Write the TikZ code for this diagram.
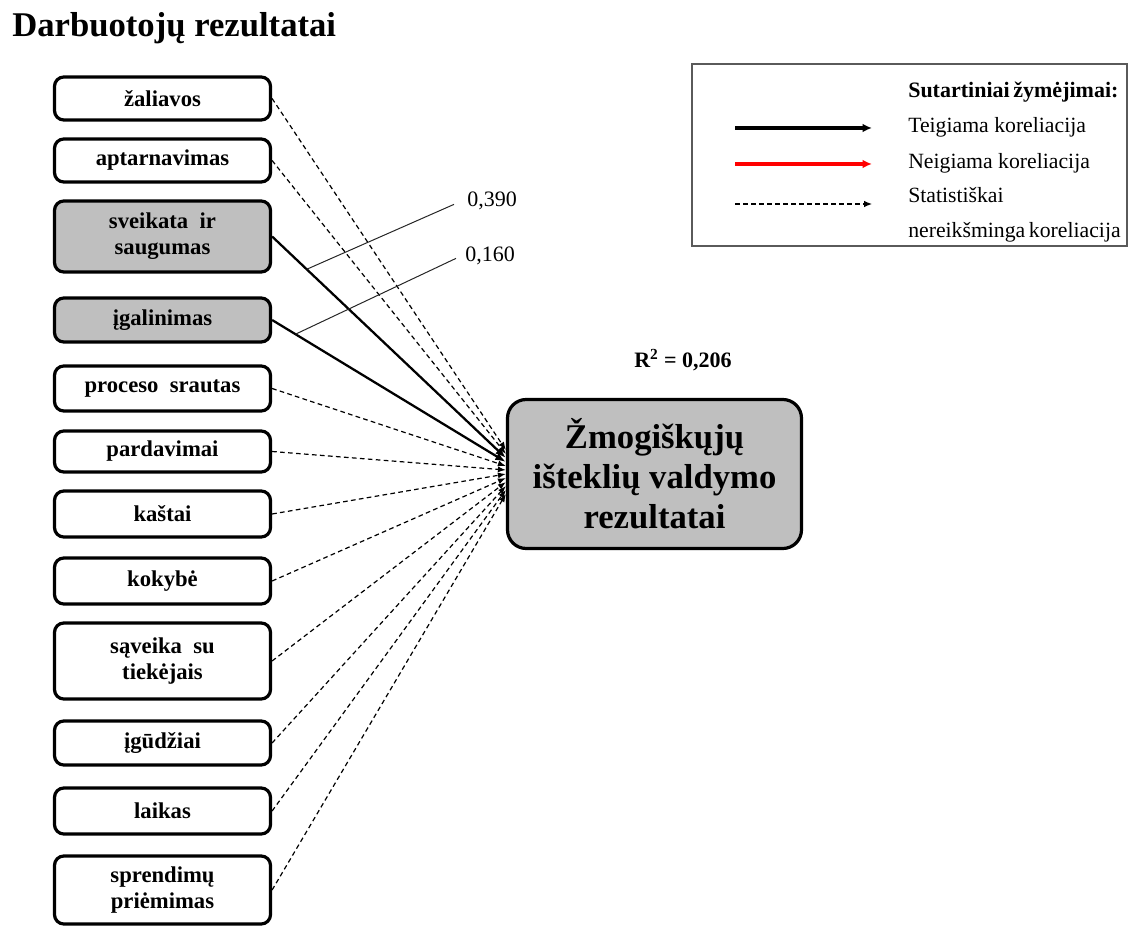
\documentclass[tikz,border=0pt]{standalone}
\usepackage{fontspec}
\setmainfont{Liberation Serif}
\usetikzlibrary{arrows.meta,calc}
\definecolor{boxgray}{RGB}{191,191,191}
\definecolor{legendframe}{RGB}{90,90,90}
\tikzset{
  factor/.style={draw, line width=2.4pt, rounded corners=7pt, fill=white,
    minimum width=162pt, align=center, inner sep=2pt,
    font=\bfseries\fontsize{17}{19.5}\selectfont},
  hilite/.style={factor, fill=boxgray},
  outcome/.style={draw, line width=2.4pt, rounded corners=14pt, fill=boxgray,
    minimum width=220.5pt, minimum height=111.75pt, align=center,
    font=\bfseries\fontsize{26}{30}\selectfont},
  sig/.style={line width=1.7pt, -{Latex[length=8pt,width=6pt]}},
  nonsig/.style={line width=0.9pt, dash pattern=on 3.5pt off 2.5pt,
    -{Latex[length=6pt,width=4.5pt]}},
  leader/.style={line width=0.75pt, draw=black!85},
  valuelabel/.style={font=\fontsize{16.5}{19}\selectfont, anchor=base west, inner sep=0pt},
  legendtext/.style={font=\fontsize{16.3}{19}\selectfont, anchor=base west, inner sep=0pt},
}
\begin{document}
\begin{tikzpicture}[x=0.75pt, y=-0.75pt]
\useasboundingbox (0,0) rectangle (1129,927);

% heading
\node[anchor=base west, inner sep=0pt, font=\bfseries\fontsize{26}{30}\selectfont]
  (title) at (12,37) {Darbuotojų rezultatai};

% employee result factors
\node[factor, minimum height=32.25pt] (b1)  at (162.5, 98.5) {žaliavos};
\node[factor, minimum height=32.25pt] (b2)  at (162.5,160.5) {aptarnavimas};
\node[hilite, minimum height=53.25pt] (b3)  at (162.5,236.5) {sveikata\ \ ir\\saugumas};
\node[hilite, minimum height=33pt]    (b4)  at (162.5,320)   {įgalinimas};
\node[factor, minimum height=33.75pt] (b5)  at (162.5,388.5) {proceso\ \ srautas};
\node[factor, minimum height=30.75pt] (b6)  at (162.5,451.5) {pardavimai};
\node[factor, minimum height=34.5pt]  (b7)  at (162.5,514)   {kaštai};
\node[factor, minimum height=34.5pt]  (b8)  at (162.5,581)   {kokybė};
\node[factor, minimum height=57pt]    (b9)  at (162.5,661)   {sąveika\ \ su\\tiekėjais};
\node[factor, minimum height=33pt]    (b10) at (162.5,743)   {įgūdžiai};
\node[factor, minimum height=34.5pt]  (b11) at (162.5,811)   {laikas};
\node[factor, minimum height=51pt]    (b12) at (162.5,890)   {sprendimų\\priėmimas};

% outcome
\node[outcome] (tgt) at (654.5,474) {Žmogiškųjų\\išteklių valdymo\\rezultatai};
\node[anchor=base, inner sep=0pt, font=\bfseries\fontsize{16.5}{19}\selectfont]
  (r2) at (683,368) {R\textsuperscript{2} = 0,206};

% connectors
\draw[nonsig] (b1.east)  -- ($(tgt.west)+(0,-24)$);
\draw[nonsig] (b2.east)  -- ($(tgt.west)+(0,-20)$);
\draw[sig]    (b3.east)  -- coordinate[pos=0.148] (c3) ($(tgt.west)+(0,-16)$);
\draw[sig]    (b4.east)  -- coordinate[pos=0.10] (c4) ($(tgt.west)+(0,-12)$);
\draw[nonsig] (b5.east)  -- ($(tgt.west)+(0,-8)$);
\draw[nonsig] (b6.east)  -- ($(tgt.west)+(0,-4)$);
\draw[nonsig] (b7.east)  -- ($(tgt.west)+(0,0)$);
\draw[nonsig] (b8.east)  -- ($(tgt.west)+(0,4)$);
\draw[nonsig] (b9.east)  -- ($(tgt.west)+(0,8)$);
\draw[nonsig] (b10.east) -- ($(tgt.west)+(0,12)$);
\draw[nonsig] (b11.east) -- ($(tgt.west)+(0,16)$);
\draw[nonsig] (b12.east) -- ($(tgt.west)+(0,20)$);

% coefficient call-outs
\node[valuelabel] (v3) at (467,207) {0,390};
\node[valuelabel] (v4) at (465,262) {0,160};
\draw[leader] (c3) -- ($(v3.west)+(-13,3)$);
\draw[leader] (c4) -- ($(v4.west)+(-9,2)$);

% legend
\node[draw=legendframe, line width=0.9pt, minimum width=326.25pt, minimum height=136.5pt,
  inner sep=0pt] (legend) at (909.5,155) {};
\node[legendtext, font=\bfseries\fontsize{16.5}{19}\selectfont] (lt0) at (908,98) {Sutartiniai\,žymėjimai:};
\node[legendtext] (lt1) at (908,133) {Teigiama koreliacija};
\node[legendtext] (lt2) at (908,169) {Neigiama koreliacija};
\node[legendtext] (lt3) at (908,203) {Statistiškai};
\node[legendtext] (lt4) at (908,238) {nereikšminga\,koreliacija};
\coordinate (ls1) at (735,128); \coordinate (le1) at (872,128);
\coordinate (ls2) at (735,164); \coordinate (le2) at (872,164);
\coordinate (ls3) at (735,204); \coordinate (le3) at (872,204);
\draw[line width=2.4pt, -{Latex[length=7pt,width=6.5pt]}] (ls1) -- (le1);
\draw[line width=2.4pt, red, -{Latex[length=7pt,width=6.5pt]}] (ls2) -- (le2);
\draw[line width=0.9pt, dash pattern=on 3.5pt off 2.5pt, -{Latex[length=6pt,width=5pt]}] (ls3) -- (le3);
\end{tikzpicture}
\end{document}
